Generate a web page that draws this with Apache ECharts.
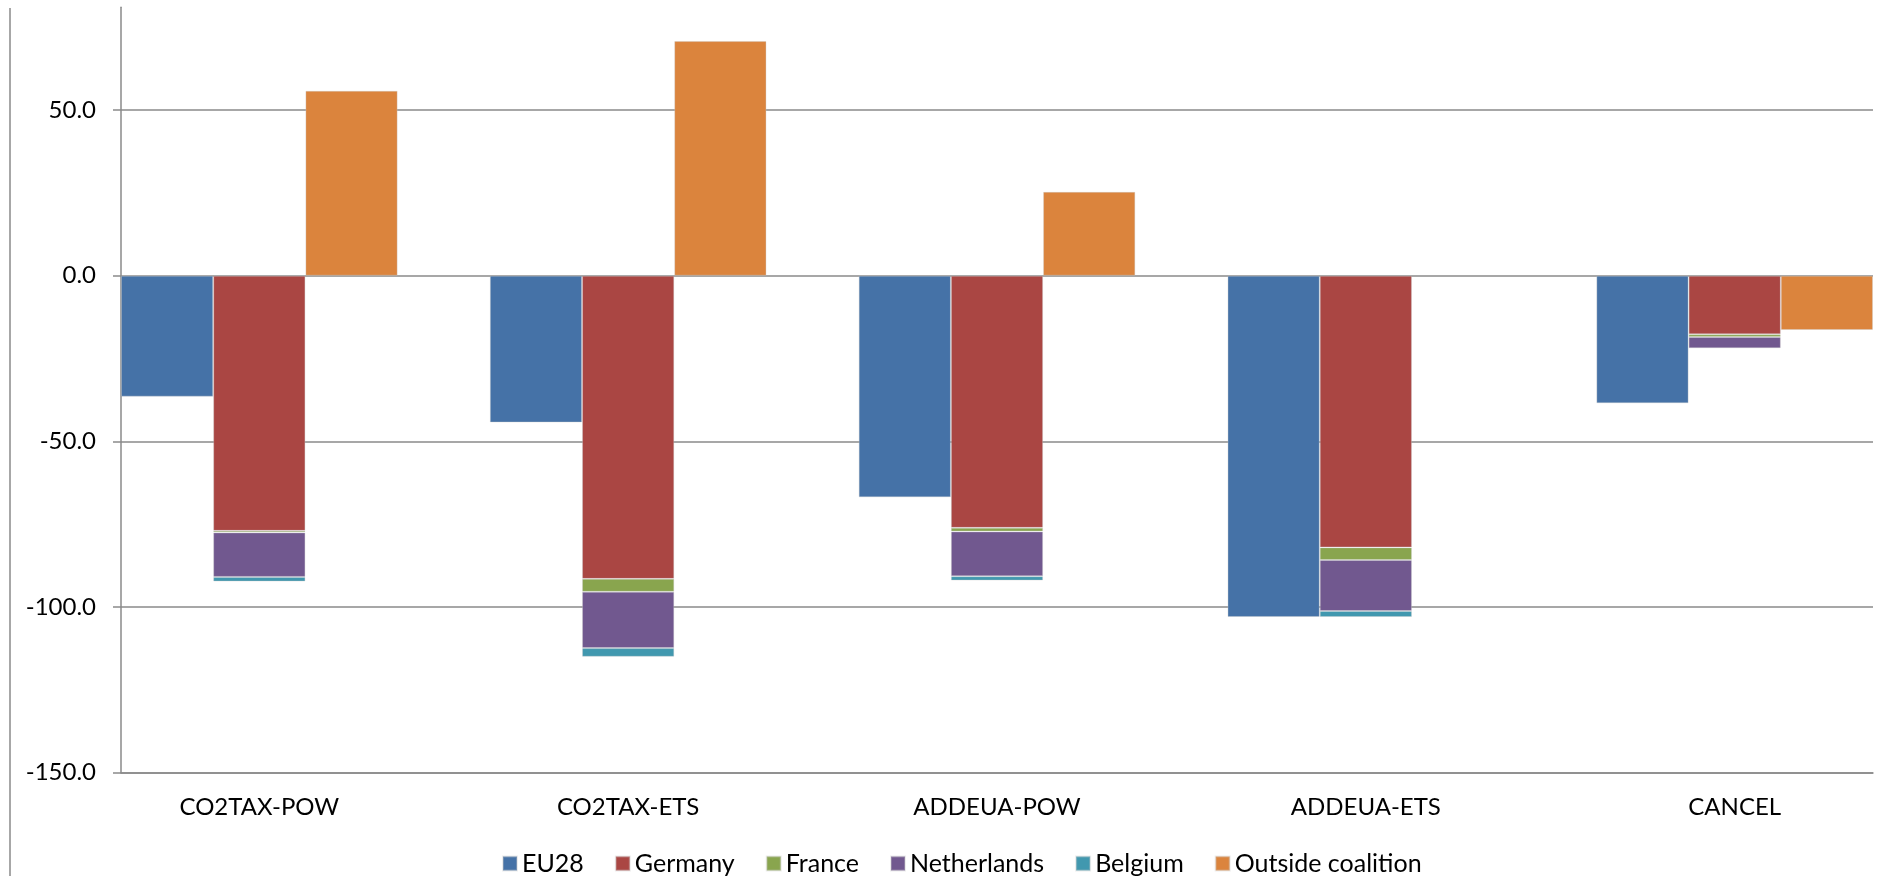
<!DOCTYPE html>
<html>
<head>
<meta charset="utf-8">
<script src="https://cdn.jsdelivr.net/npm/echarts@6/dist/echarts.min.js"></script>
<style>
  html, body { margin: 0; padding: 0; background: #ffffff; }
  #chart { width: 1893px; height: 876px; }
</style>
</head>
<body>
<div id="chart"></div>
<script>
// Scenario names (one group of columns per scenario)
const categories = ['CO2TAX-POW', 'CO2TAX-ETS', 'ADDEUA-POW', 'ADDEUA-ETS', 'CANCEL'];

// Values per scenario (null = no column)
const eu28        = [-36.5, -44.3, -66.9, -103.0, -38.5];
const germany     = [-77.0, -91.5, -76.1, -82.0, -17.7];
const france      = [-0.5, -3.9, -1.1, -3.8, -0.8];
const netherlands = [-13.4, -17.0, -13.5, -15.4, -3.4];
const belgium     = [-1.4, -2.6, -1.3, -1.8, null];
const outside     = [55.8, 70.8, 25.3, null, -16.4];

// Value axis ticks
const yTicks = [-150, -100, -50, 0, 50];

const seriesNames = ['EU28', 'Germany', 'France', 'Netherlands', 'Belgium', 'Outside coalition'];
const colors = ['#4572A7', '#AA4643', '#89A54E', '#71588F', '#4198AF', '#DB843D'];

// Each scenario uses three adjacent slots (EU28 | coalition stack | outside)
// followed by one empty slot between scenarios.
const SLOTS_PER_GROUP = 4;
const slotCount = categories.length * SLOTS_PER_GROUP - 1;
const slotLabels = [];
for (let i = 0; i < slotCount; i++) {
  const g = Math.floor(i / SLOTS_PER_GROUP);
  slotLabels.push(i % SLOTS_PER_GROUP === 1 ? categories[g] : 'slot' + i);
}

function placeInSlot(values, offset) {
  const arr = new Array(slotCount).fill(null);
  values.forEach((v, g) => { arr[g * SLOTS_PER_GROUP + offset] = v; });
  return arr;
}

const seriesData = [
  placeInSlot(eu28, 0),
  placeInSlot(germany, 1),
  placeInSlot(france, 1),
  placeInSlot(netherlands, 1),
  placeInSlot(belgium, 1),
  placeInSlot(outside, 2)
];

const gray = '#8a8a8a';
const fontFamily = 'Lato, "Open Sans", sans-serif';

const chart = echarts.init(document.getElementById('chart'), null, { renderer: 'canvas' });

chart.setOption({
  animation: false,
  color: colors,
  grid: { left: 121, right: 20, top: 7.3, bottom: 103.3, containLabel: false },
  legend: {
    data: seriesNames,
    left: 502,
    top: 851,
    padding: 0,
    icon: 'rect',
    itemWidth: 14,
    itemHeight: 14,
    itemGap: 31,
    textStyle: { fontFamily: fontFamily, fontSize: 25, color: '#000000' }
  },
  xAxis: {
    type: 'category',
    data: slotLabels,
    boundaryGap: true,
    axisLine: { show: true, onZero: false, lineStyle: { color: gray, width: 1.5 } },
    axisTick: { show: false },
    axisLabel: {
      interval: (idx) => idx % SLOTS_PER_GROUP === 1,
      formatter: (v) => (v.indexOf('slot') === 0 ? '' : v),
      margin: 23,
      fontFamily: fontFamily,
      fontSize: 24,
      color: '#000000'
    },
    splitLine: { show: false }
  },
  yAxis: {
    type: 'value',
    min: -150,
    max: 81,
    axisLine: { show: true, lineStyle: { color: gray, width: 1.5 } },
    axisTick: { show: true, inside: false, length: 8, customValues: yTicks, lineStyle: { color: gray, width: 1.5 } },
    axisLabel: {
      customValues: yTicks,
      formatter: (v) => v.toFixed(1),
      margin: 25,
      fontFamily: fontFamily,
      fontSize: 24,
      color: '#000000'
    },
    splitLine: { show: true, lineStyle: { color: gray, width: 1.5 } }
  },
  graphic: [{
    type: 'line',
    shape: { x1: 10, y1: 8, x2: 10, y2: 876 },
    style: { stroke: gray, lineWidth: 1.5 }
  }],
  series: seriesNames.map((name, k) => ({
    name: name,
    type: 'bar',
    stack: 'all',
    barCategoryGap: '0%',
    data: seriesData[k],
    itemStyle: { borderColor: 'rgba(200,200,200,0.35)', borderWidth: 1 }
  }))
});
</script>
</body>
</html>
